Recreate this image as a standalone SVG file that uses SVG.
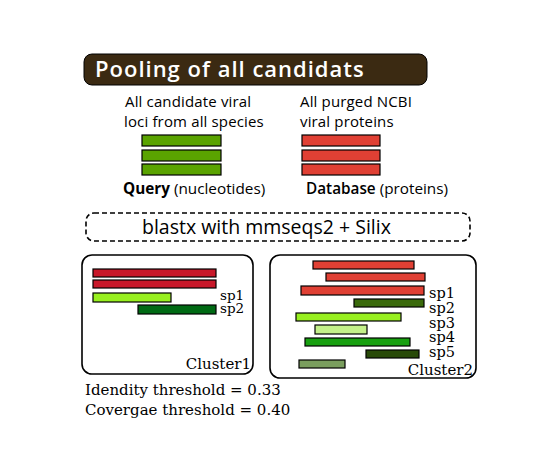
<svg xmlns="http://www.w3.org/2000/svg" width="556" height="455" viewBox="0 0 556 455">
<style>
.s{font-family:"Open Sans","Liberation Sans",sans-serif;fill:#000}
.sf{font-family:"DejaVu Serif","Liberation Serif",serif;fill:#000}
.bar{stroke:#000;stroke-width:1.2}
.box{fill:#fff;stroke:#000;stroke-width:1.6}
</style>
<rect width="556" height="455" fill="#fff"/>
<g id="title">
<rect x="84" y="54" width="343" height="31" rx="8" fill="#3b2a12" stroke="#000" stroke-width="1"/>
<text x="95" y="77" font-size="22" font-weight="600" letter-spacing="1" fill="#fff" font-family="'Open Sans','Liberation Sans',sans-serif">Pooling of all candidats</text>
</g>
<g id="query">
<text class="s" x="125" y="107" font-size="15" letter-spacing="0.15">All candidate viral</text>
<text class="s" x="124" y="127" font-size="15" letter-spacing="0.15">loci from all species</text>
<rect class="bar" x="142" y="135" width="79" height="11" fill="#5aa300"/>
<rect class="bar" x="142" y="150" width="79" height="11" fill="#5aa300"/>
<rect class="bar" x="142" y="164" width="79" height="11" fill="#5aa300"/>
<text class="s" x="123" y="194" font-size="15.3"><tspan font-weight="bold">Query</tspan> (nucleotides)</text>
</g>
<g id="database">
<text class="s" x="300" y="107" font-size="15" letter-spacing="0.15">All purged NCBI</text>
<text class="s" x="300" y="127" font-size="15" letter-spacing="0.15">viral proteins</text>
<rect class="bar" x="302" y="135" width="78" height="11" fill="#e04034"/>
<rect class="bar" x="302" y="150" width="78" height="11" fill="#e04034"/>
<rect class="bar" x="302" y="164" width="78" height="11" fill="#e04034"/>
<text class="s" x="306" y="194" font-size="15.3"><tspan font-weight="600">Database</tspan> (proteins)</text>
</g>
<g id="blastx">
<rect x="86" y="213" width="384" height="28" rx="8" fill="#fff" stroke="#000" stroke-width="1.6" stroke-dasharray="5,3"/>
<text class="s" x="142" y="234" font-size="19.5">blastx with mmseqs2 + Silix</text>
</g>
<g id="cluster1">
<rect class="box" x="82" y="255" width="171" height="119" rx="10"/>
<rect class="bar" x="93" y="269" width="123" height="8" fill="#c8182a"/>
<rect class="bar" x="93" y="280" width="123" height="8" fill="#c8182a"/>
<rect class="bar" x="93" y="293" width="78" height="9" fill="#98f020"/>
<rect class="bar" x="138" y="305" width="78" height="9" fill="#006a14"/>
<text class="sf" x="220" y="299.5" font-size="13.5">sp1</text>
<text class="sf" x="220" y="312.5" font-size="13.5">sp2</text>
<text class="sf" x="251" y="369" font-size="15" text-anchor="end">Cluster1</text>
</g>
<g id="cluster2">
<rect class="box" x="270" y="255" width="206" height="123" rx="10"/>
<rect class="bar" x="313" y="261" width="101" height="8" fill="#e04034"/>
<rect class="bar" x="326" y="273" width="99" height="8" fill="#e04034"/>
<rect class="bar" x="301" y="286" width="123" height="9" fill="#e04034"/>
<rect class="bar" x="354" y="299" width="70" height="8" fill="#3a6a0c"/>
<rect class="bar" x="296" y="313" width="105" height="8" fill="#98f020"/>
<rect class="bar" x="315" y="325" width="52" height="9" fill="#c4f08a"/>
<rect class="bar" x="305" y="338" width="105" height="8" fill="#18a010"/>
<rect class="bar" x="366" y="350" width="53" height="8" fill="#284a08"/>
<rect class="bar" x="299" y="360" width="46" height="8" fill="#7a9e5e"/>
<text class="sf" x="429" y="298" font-size="14.5">sp1</text>
<text class="sf" x="429" y="313" font-size="14.5">sp2</text>
<text class="sf" x="429" y="327.5" font-size="14.5">sp3</text>
<text class="sf" x="429" y="342" font-size="14.5">sp4</text>
<text class="sf" x="429" y="356.5" font-size="14.5">sp5</text>
<text class="sf" x="473" y="375" font-size="15" text-anchor="end">Cluster2</text>
</g>
<g id="thresholds">
<text class="sf" x="85" y="395" font-size="15">Idendity threshold = 0.33</text>
<text class="sf" x="85" y="415" font-size="15">Covergae threshold = 0.40</text>
</g>
<g id="connectors"></g>
</svg>
